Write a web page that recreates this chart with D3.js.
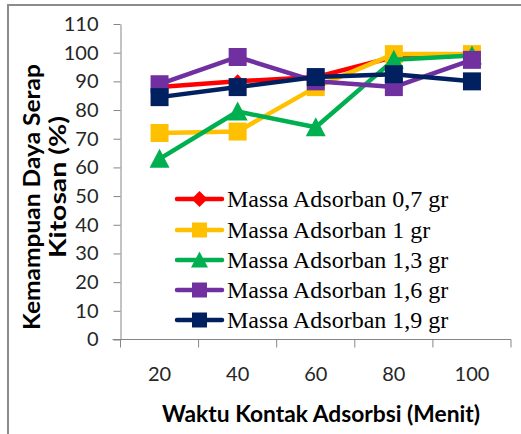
<!DOCTYPE html>
<html>
<head>
<meta charset="utf-8">
<script src="https://cdn.jsdelivr.net/npm/d3@7"></script>
<style>
  body { margin: 0; background: #fff; }
  svg { display: block; }
</style>
</head>
<body>
<svg id="chart" width="521" height="434"></svg>
<script>
// chart data
var categories = [20, 40, 60, 80, 100];
var yTicks     = [0, 10, 20, 30, 40, 50, 60, 70, 80, 90, 100, 110];

var massa07 = [88, 90, 91.5, 98.5, 99.5];
var massa1  = [72, 72.5, 88, 99.5, 99.5];
var massa13 = [63, 79.5, 74, 97.5, 99];
var massa16 = [89, 98.5, 90, 88, 97.5];
var massa19 = [84.5, 88, 91.5, 92.5, 90];

var seriesNames = ["Massa Adsorban 0,7 gr", "Massa Adsorban 1 gr", "Massa Adsorban 1,3 gr",
                   "Massa Adsorban 1,6 gr", "Massa Adsorban 1,9 gr"];

var series = [
  {name: seriesNames[0], values: massa07, color: "#ff0000", shape: "diamond"},
  {name: seriesNames[1], values: massa1,  color: "#ffc000", shape: "square"},
  {name: seriesNames[2], values: massa13, color: "#00b050", shape: "triangle"},
  {name: seriesNames[3], values: massa16, color: "#7030a0", shape: "square"},
  {name: seriesNames[4], values: massa19, color: "#002060", shape: "square"}
];

var svg = d3.select("#chart");

// outer frame (right and bottom edges run off the picture)
svg.append("rect")
   .attr("x", 8).attr("y", 5)
   .attr("width", 540).attr("height", 460)
   .attr("fill", "none")
   .attr("stroke", "#8c8c8c")
   .attr("stroke-width", 2);

var plot = {left: 120.5, right: 511, top: 24, bottom: 339.5};

var x = d3.scaleBand().domain(categories).range([plot.left, plot.right]).padding(0);
var y = d3.scaleLinear().domain([0, 110]).range([plot.bottom, plot.top]);

function cx(c) { return x(c) + x.bandwidth() / 2; }

// y axis
var yAxis = svg.append("g")
   .attr("transform", "translate(" + plot.left + ",0)")
   .call(d3.axisLeft(y).tickValues(yTicks).tickSize(7).tickPadding(15).tickSizeOuter(0));
yAxis.select(".domain").attr("stroke", "#868686");
yAxis.selectAll(".tick line").attr("stroke", "#868686");
yAxis.selectAll("text")
     .attr("font-family", "Lato, 'Open Sans', sans-serif")
     .attr("font-size", 20)
     .attr("fill", "#262626");

// x axis: labels at the centres, ticks between categories
var xAxis = svg.append("g")
   .attr("transform", "translate(0," + plot.bottom + ")");
xAxis.append("line")
     .attr("x1", plot.left - 8).attr("x2", plot.right)
     .attr("stroke", "#868686");
var edges = categories.map(function(c) { return x(c); }).concat([plot.right]);
xAxis.selectAll("line.tk")
     .data(edges)
     .enter().append("line")
     .attr("class", "tk")
     .attr("x1", function(d) { return d; }).attr("x2", function(d) { return d; })
     .attr("y1", 0).attr("y2", 8)
     .attr("stroke", "#868686");
xAxis.selectAll("text")
     .data(categories)
     .enter().append("text")
     .attr("x", function(d) { return cx(d); })
     .attr("y", 41)
     .attr("text-anchor", "middle")
     .attr("font-family", "Lato, 'Open Sans', sans-serif")
     .attr("font-size", 20)
     .attr("fill", "#262626")
     .text(function(d) { return d; });

// axis titles
svg.append("text")
   .attr("x", 321).attr("y", 422)
   .attr("text-anchor", "middle")
   .attr("font-family", "Lato, sans-serif")
   .attr("font-weight", "bold")
   .attr("font-size", 23)
   .attr("textLength", 318)
   .attr("lengthAdjust", "spacingAndGlyphs")
   .attr("fill", "#000")
   .text("Waktu Kontak Adsorbsi (Menit)");

var yTitle = svg.append("g").attr("transform", "translate(0,197) rotate(-90)");
yTitle.append("text")
   .attr("x", 0).attr("y", 40)
   .attr("text-anchor", "middle")
   .attr("font-family", "Lato, sans-serif")
   .attr("font-weight", "bold")
   .attr("font-size", 23)
   .attr("textLength", 266)
   .attr("lengthAdjust", "spacingAndGlyphs")
   .text("Kemampuan Daya Serap");
yTitle.append("text")
   .attr("x", 10).attr("y", 66)
   .attr("text-anchor", "middle")
   .attr("font-family", "Lato, sans-serif")
   .attr("font-weight", "bold")
   .attr("font-size", 23)
   .attr("textLength", 142)
   .attr("lengthAdjust", "spacingAndGlyphs")
   .text("Kitosan (%)");

// marker shapes
function markerPath(shape, s) {
  var h = s / 2;
  if (shape === "square")   return "M" + (-h) + "," + (-h) + "h" + s + "v" + s + "h" + (-s) + "Z";
  if (shape === "diamond")  return "M0," + (-h) + "L" + h + ",0L0," + h + "L" + (-h) + ",0Z";
  if (shape === "triangle") return "M0," + (-h - 1) + "L" + (h + 1) + "," + h + "L" + (-h - 1) + "," + h + "Z";
}

var line = d3.line()
  .x(function(d, i) { return cx(categories[i]); })
  .y(function(d) { return y(d); });

series.forEach(function(s) {
  var g = svg.append("g");
  g.append("path")
   .attr("d", line(s.values))
   .attr("fill", "none")
   .attr("stroke", s.color)
   .attr("stroke-width", 4.5)
   .attr("stroke-linejoin", "round");
  g.selectAll("path.mk")
   .data(s.values)
   .enter().append("path")
   .attr("class", "mk")
   .attr("transform", function(d, i) { return "translate(" + cx(categories[i]) + "," + y(d) + ")"; })
   .attr("d", markerPath(s.shape, s.shape === "diamond" ? 14 : 18))
   .attr("fill", s.color);
});

// legend
var legendY = [199, 230, 260, 290, 320];
var legend = svg.append("g");
series.forEach(function(s, i) {
  var row = legend.append("g").attr("transform", "translate(0," + legendY[i] + ")");
  row.append("line")
     .attr("x1", 177).attr("x2", 222)
     .attr("stroke", s.color)
     .attr("stroke-width", 4.5)
     .attr("stroke-linecap", "round");
  row.append("path")
     .attr("transform", "translate(199.5,0)")
     .attr("d", markerPath(s.shape, s.shape === "diamond" ? 16 : 15))
     .attr("fill", s.color);
  row.append("text")
     .attr("x", 227).attr("y", 8)
     .attr("font-family", "'Liberation Serif', 'Times New Roman', serif")
     .attr("font-size", 24)
     .attr("fill", "#000")
     .text(s.name);
});
</script>
</body>
</html>
